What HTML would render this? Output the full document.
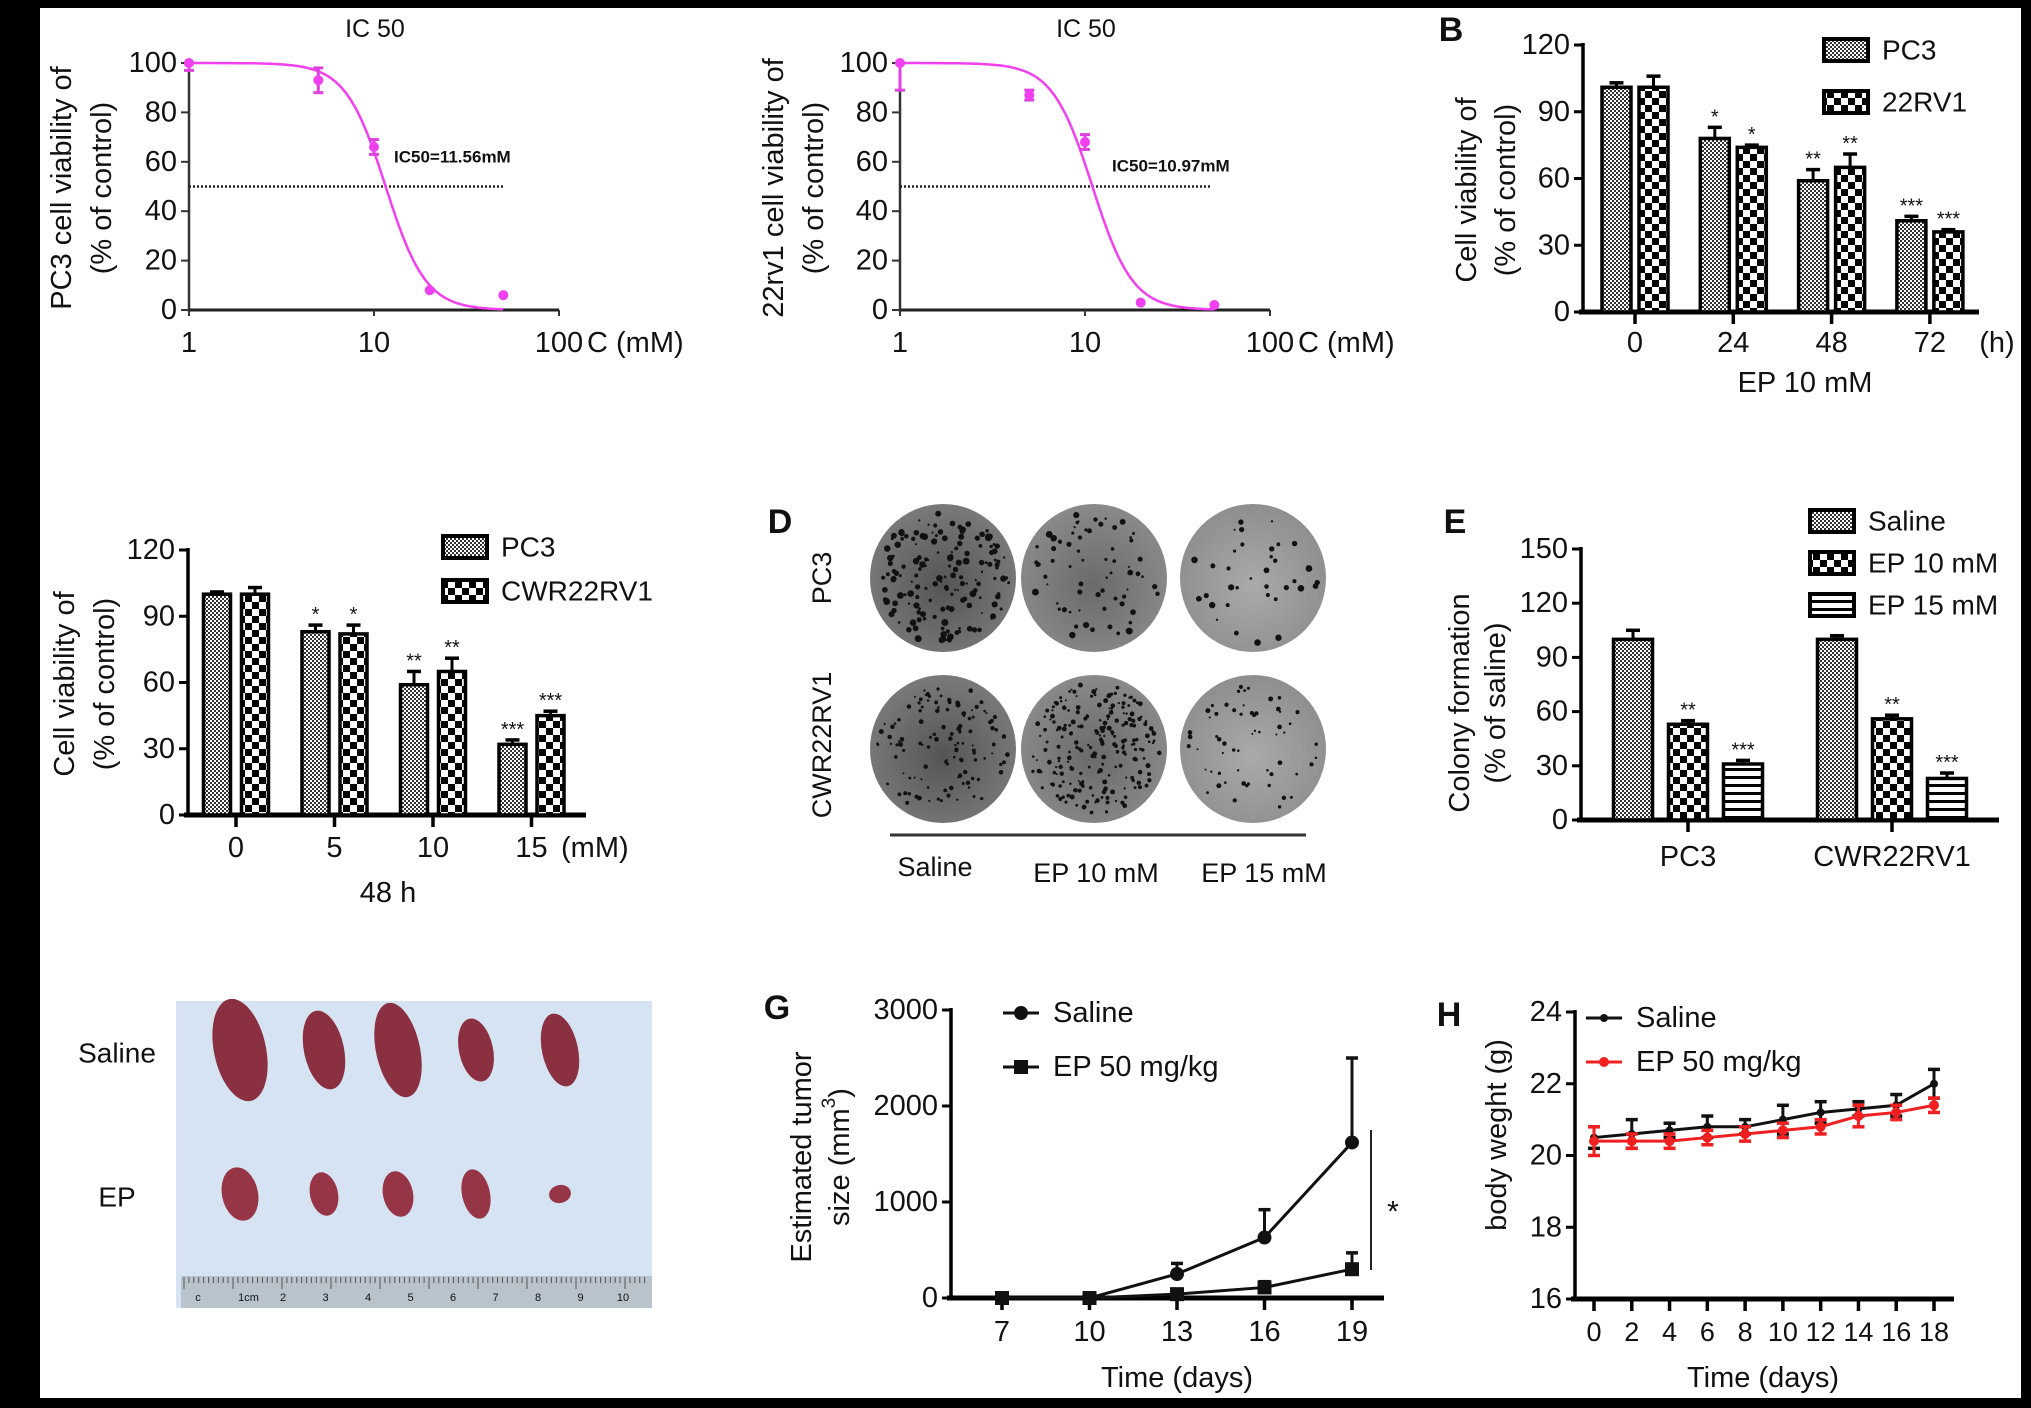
<!DOCTYPE html>
<html><head><meta charset="utf-8"><style>
html,body{margin:0;padding:0;background:#000}
svg{display:block}
text{font-family:"Liberation Sans",Arial,sans-serif;fill:#111}
</style></head><body>
<svg id="fig" width="2031" height="1408" viewBox="0 0 2031 1408" xmlns="http://www.w3.org/2000/svg">
<defs>
<pattern id="pFine" width="4" height="4" patternUnits="userSpaceOnUse"><rect width="4" height="4" fill="#fff"/><rect width="2" height="2" fill="#333"/><rect x="2" y="2" width="2" height="2" fill="#333"/></pattern>
<pattern id="pCoarse" width="14" height="14" patternUnits="userSpaceOnUse"><rect width="14" height="14" fill="#fff"/><rect width="7" height="7" fill="#000"/><rect x="7" y="7" width="7" height="7" fill="#000"/></pattern>
<pattern id="pStripe" width="8" height="8" patternUnits="userSpaceOnUse"><rect width="8" height="8" fill="#fff"/><rect y="0" width="8" height="3" fill="#000"/></pattern>
<radialGradient id="gPlate1" cx="50%" cy="55%" r="55%"><stop offset="0" stop-color="#555"/><stop offset="1" stop-color="#7a7a7a"/></radialGradient>
<radialGradient id="gPlate2" cx="50%" cy="55%" r="55%"><stop offset="0" stop-color="#6a6a6a"/><stop offset="1" stop-color="#8a8a8a"/></radialGradient>
<radialGradient id="gPlate3" cx="50%" cy="55%" r="55%"><stop offset="0" stop-color="#aaa"/><stop offset="1" stop-color="#8e8e8e"/></radialGradient>
</defs>
<rect x="40" y="8" width="1981" height="1390" fill="#fff"/>
<g id="root"></g>
</svg>
<script>
// ---------- DATA ----------
const a1Conc = [1, 5, 10, 20, 50];
const a1Vals = [100, 93, 66, 8, 6];
const a1Err = [3, 5, 3, 1, 0.5];
const a1IC50 = 11.56;
const a2Conc = [1, 5, 10, 20, 50];
const a2Vals = [100, 87, 68, 3, 2];
const a2Err = [11, 2, 3, 1, 0.5];
const a2IC50 = 10.97;
const aYTicks = [0, 20, 40, 60, 80, 100];
const aXTicks = [1, 10, 100];

const bCats = ["0", "24", "48", "72"];
const bPC3 = [101, 78, 59, 41];
const bPC3Err = [2, 5, 5, 2];
const b22 = [101, 74, 65, 36];
const b22Err = [5, 1, 6, 1];
const bPC3Stars = ["", "*", "**", "***"];
const b22Stars = ["", "*", "**", "***"];
const bcYTicks = [0, 30, 60, 90, 120];

const cCats = ["0", "5", "10", "15"];
const cPC3 = [100, 83, 59, 32];
const cPC3Err = [1, 3, 6, 2];
const cCWR = [100, 82, 65, 45];
const cCWRErr = [3, 4, 6, 2];
const cPC3Stars = ["", "*", "**", "***"];
const cCWRStars = ["", "*", "**", "***"];

const eCats = ["PC3", "CWR22RV1"];
const eSaline = [100, 100];
const eSalineErr = [5, 2];
const eEP10 = [53, 56];
const eEP10Err = [2, 2];
const eEP15 = [31, 23];
const eEP15Err = [2, 3];
const eEP10Stars = ["**", "**"];
const eEP15Stars = ["***", "***"];
const eYTicks = [0, 30, 60, 90, 120, 150];

const gDays = [7, 10, 13, 16, 19];
const gSaline = [0, 0, 250, 630, 1620];
const gSalineErr = [0, 0, 110, 290, 880];
const gEP = [0, 0, 40, 110, 300];
const gEPErr = [0, 0, 30, 60, 170];
const gYTicks = [0, 1000, 2000, 3000];

const hDays = [0, 2, 4, 6, 8, 10, 12, 14, 16, 18];
const hSaline = [20.5, 20.6, 20.7, 20.8, 20.8, 21.0, 21.2, 21.3, 21.4, 22.0];
const hSalineErr = [0.3, 0.4, 0.2, 0.3, 0.2, 0.4, 0.3, 0.2, 0.3, 0.4];
const hEP = [20.4, 20.4, 20.4, 20.5, 20.6, 20.7, 20.8, 21.1, 21.2, 21.4];
const hEPErr = [0.4, 0.2, 0.2, 0.2, 0.2, 0.2, 0.2, 0.3, 0.2, 0.2];
const hYTicks = [16, 18, 20, 22, 24];

// ---------- HELPERS ----------
const NS = "http://www.w3.org/2000/svg";
const root = document.getElementById("root");
function el(tag, attrs, parent) {
  const e = document.createElementNS(NS, tag);
  for (const k in attrs) e.setAttribute(k, attrs[k]);
  (parent || root).appendChild(e);
  return e;
}
function txt(s, x, y, size, opts, parent) {
  opts = opts || {};
  const t = el("text", {x: x, y: y, "font-size": size, "text-anchor": opts.anchor || "middle", "dominant-baseline": "central"}, parent);
  if (opts.bold) t.setAttribute("font-weight", "bold");
  if (opts.rot) t.setAttribute("transform", "rotate(-90 " + x + " " + y + ")");
  if (opts.fill) t.style.fill = opts.fill;
  t.textContent = s;
  return t;
}
function line(x1, y1, x2, y2, w, col, parent) {
  return el("line", {x1: x1, y1: y1, x2: x2, y2: y2, stroke: col || "#000", "stroke-width": w || 3}, parent);
}
function group(name) {
  const g = el("g", {});
  
  
  return g;
}

// ---------- PANEL A (IC50 curves) ----------
function icPanel(name, ax, conc, vals, errs, ic50, label, labelX, labelY, dotEnd, ylab1, ylab2, ylx1, ylx2) {
  const g = group(name);
  const y0 = 310, y100 = 63, dec = 185;
  const X = c => ax + Math.log10(c) * dec;
  const Y = v => y0 - (v / 100) * (y0 - y100);
  const t = txt("IC 50", X(Math.sqrt(10) * 3.2), 29, 25, {}, g);
  
  line(ax, Y(100) - 2, ax, y0 + 2, 2.5, "#333", g);
  line(ax, y0, X(100), y0, 3, "#222", g);
  aYTicks.forEach(v => {
    line(ax - 8, Y(v), ax, Y(v), 2, "#333", g);
    const tl = txt(String(v), ax - 12, Y(v), 29, {anchor: "end"}, g);
    
  });
  aXTicks.forEach(v => {
    line(X(v), y0, X(v), y0 + 6, 2, "#333", g);
    const tl = txt(String(v), X(v), 343, 29, {}, g);
    
  });
  const ut = txt("C (mM)", X(100) + 28, 343, 29, {anchor: "start"}, g);
  
  const dl = line(ax, Y(50), dotEnd, Y(50), 2.5, "#222", g);
  dl.setAttribute("stroke-dasharray", "2 2");
  
  let d = "";
  for (let i = 0; i <= 200; i++) {
    const lc = i * Math.log10(50) / 200;
    const c = Math.pow(10, lc);
    const v = 100 / (1 + Math.pow(c / ic50, 4));
    d += (i ? "L" : "M") + X(c).toFixed(1) + " " + Y(v).toFixed(1);
  }
  const p = el("path", {d: d, fill: "none", stroke: "#f040f0", "stroke-width": 2.5}, g);
  
  conc.forEach((c, i) => {
    const x = X(c), yv = Y(vals[i]);
    if (errs[i] > 1) {
      const yl = Y(vals[i] - errs[i]), yh = Y(Math.min(vals[i] + errs[i], 100));
      line(x, yl, x, yh, 3, "#e040e0", g);
      line(x - 5, yl, x + 5, yl, 3, "#e040e0", g);
      line(x - 5, yh, x + 5, yh, 3, "#e040e0", g);
    }
    const c1 = el("circle", {cx: x, cy: yv, r: 5, fill: "#f040f0"}, g);
    
  });
  const lt = txt(label, labelX, labelY, 17, {anchor: "start", bold: true}, g);
  
  const y1 = txt(ylab1, ylx1, 188, 29, {rot: true}, g);
  
  const y2 = txt(ylab2, ylx2, 188, 29, {rot: true}, g);
  
}
icPanel("panel-a-pc3-ic50", 189, a1Conc, a1Vals, a1Err, a1IC50, "IC50=11.56mM", 394, 157, 505, "PC3 cell viability of", "(% of control)", 62, 102);
icPanel("panel-a-22rv1-ic50", 900, a2Conc, a2Vals, a2Err, a2IC50, "IC50=10.97mM", 1112, 166, 1212, "22rv1 cell viability of", "(% of control)", 774, 814);

// ---------- BAR CHART HELPER ----------
function barChart(cfg) {
  const g = group(cfg.name);
  const Y = v => cfg.y0 - (v / cfg.ymax) * (cfg.y0 - cfg.yTop);
  line(cfg.ax, cfg.yTop - 2, cfg.ax, cfg.y0, 3.5, "#000", g);
  line(cfg.ax - 4, cfg.y0, cfg.xEnd, cfg.y0, 5, "#000", g);
  cfg.yTicks.forEach(v => {
    line(cfg.ax - 9, Y(v), cfg.ax, Y(v), 3, "#000", g);
    const tl = txt(String(v), cfg.ax - 13, Y(v), 29, {anchor: "end"}, g);
    
  });
  const ns = cfg.series.length;
  cfg.cats.forEach((cat, i) => {
    const cx = cfg.c0 + i * cfg.step;
    line(cx, cfg.y0, cx, cfg.y0 + 12, 3.5, "#000", g);
    const tl = txt(cat, cx, cfg.tickY, 29, {}, g);
    
    cfg.series.forEach((s, j) => {
      const bx = cx + (j - (ns - 1) / 2) * cfg.gap - cfg.bw / 2;
      const v = s.vals[i], e = s.errs[i];
      const yt = Y(v + e);
      line(bx + cfg.bw / 2, Y(v), bx + cfg.bw / 2, yt, 3, "#000", g);
      line(bx + cfg.bw / 2 - 7, yt, bx + cfg.bw / 2 + 7, yt, 3.5, "#000", g);
      const r = el("rect", {x: bx, y: Y(v), width: cfg.bw, height: cfg.y0 - Y(v), fill: "url(#" + s.pat + ")", stroke: "#000", "stroke-width": 3.5}, g);
      
      
      if (s.stars && s.stars[i]) {
        const st = txt(s.stars[i], bx + cfg.bw / 2, yt - 10, 20, {}, g);
        
      }
    });
  });
  cfg.legend.forEach((lg, k) => {
    const ly = cfg.legY + k * cfg.legStep;
    const r = el("rect", {x: cfg.legX, y: ly - 11, width: 44, height: 22, fill: "url(#" + lg.pat + ")", stroke: "#000", "stroke-width": 4}, g);
    
    const lt = txt(lg.label, cfg.legX + 58, ly, 28, {anchor: "start"}, g);
    
  });
  cfg.ylab.forEach((s, k) => {
    const t = txt(s, cfg.ylx[k], cfg.yly, 29, {rot: true}, g);
    
  });
  return g;
}

// Panel B
const gB = barChart({name: "panel-b-time-course", ax: 1583, y0: 312, yTop: 45, ymax: 120, xEnd: 1979, yTicks: bcYTicks,
  cats: bCats, c0: 1635, step: 98.3, gap: 37, bw: 29, tickY: 343,
  series: [{key: "pc3", vals: bPC3, errs: bPC3Err, pat: "pFine", stars: bPC3Stars}, {key: "22rv1", vals: b22, errs: b22Err, pat: "pCoarse", stars: b22Stars}],
  legend: [{label: "PC3", pat: "pFine"}, {label: "22RV1", pat: "pCoarse"}], legX: 1824, legY: 50, legStep: 52,
  ylab: ["Cell viability of", "(% of control)"], ylx: [1467, 1506], yly: 190});
txt("(h)", 1997, 343, 29, {}, gB);
txt("EP 10 mM", 1805, 383, 29, {}, gB);
txt("B", 1451, 30, 34, {bold: true}, gB);

// Panel C
const gC = barChart({name: "panel-c-dose", ax: 188, y0: 815, yTop: 550, ymax: 120, xEnd: 586, yTicks: bcYTicks,
  cats: cCats, c0: 236, step: 98.5, gap: 38, bw: 27, tickY: 848,
  series: [{key: "pc3", vals: cPC3, errs: cPC3Err, pat: "pFine", stars: cPC3Stars}, {key: "cwr22rv1", vals: cCWR, errs: cCWRErr, pat: "pCoarse", stars: cCWRStars}],
  legend: [{label: "PC3", pat: "pFine"}, {label: "CWR22RV1", pat: "pCoarse"}], legX: 443, legY: 547, legStep: 44,
  ylab: ["Cell viability of", "(% of control)"], ylx: [65, 105], yly: 684});
txt("(mM)", 561, 848, 29, {anchor: "start"}, gC);
txt("48 h", 388, 893, 29, {}, gC);

// Panel E
const gE = barChart({name: "panel-e-colony", ax: 1581, y0: 820, yTop: 549, ymax: 150, xEnd: 1999, yTicks: eYTicks,
  cats: eCats, c0: 1688, step: 204, gap: 55, bw: 39, tickY: 857,
  series: [{key: "saline", vals: eSaline, errs: eSalineErr, pat: "pFine"}, {key: "ep10", vals: eEP10, errs: eEP10Err, pat: "pCoarse", stars: eEP10Stars}, {key: "ep15", vals: eEP15, errs: eEP15Err, pat: "pStripe", stars: eEP15Stars}],
  legend: [{label: "Saline", pat: "pFine"}, {label: "EP 10 mM", pat: "pCoarse"}, {label: "EP 15 mM", pat: "pStripe"}], legX: 1810, legY: 521, legStep: 42,
  ylab: ["Colony formation", "(% of saline)"], ylx: [1460, 1496], yly: 703});
txt("E", 1455, 522, 34, {bold: true}, gE);

// ---------- PANEL D (plates) ----------
(function () {
  const g = group("panel-d-colony-plates");
  txt("D", 780, 522, 34, {bold: true}, g);
  txt("PC3", 822, 578, 27, {rot: true}, g);
  txt("CWR22RV1", 822, 745, 27, {rot: true}, g);
  const cxs = [943, 1094, 1253], cys = [578, 749];
  const grads = ["gPlate1", "gPlate2", "gPlate3"];
  const dots = [[160, 120], [70, 220], [35, 60]];
  let seed = 7;
  const rnd = () => { seed = (seed * 16807) % 2147483647; return seed / 2147483647; };
  cys.forEach((cy, r) => cxs.forEach((cx, c) => {
    const e = el("ellipse", {cx: cx, cy: cy, rx: 73, ry: 74, fill: "url(#" + grads[c] + ")"}, g);
    
    const n = dots[c][r];
    for (let k = 0; k < n; k++) {
      const a = rnd() * Math.PI * 2, rr = Math.sqrt(rnd()) * 66;
      el("circle", {cx: cx + Math.cos(a) * rr, cy: cy + Math.sin(a) * rr, r: 1 + rnd() * (r ? 1.5 : 2.5), fill: "#111"}, g);
    }
  }));
  line(890, 835, 1306, 835, 3, "#333", g);
  txt("Saline", 935, 867, 27, {}, g);
  txt("EP 10 mM", 1096, 873, 27, {}, g);
  txt("EP 15 mM", 1264, 873, 27, {}, g);
})();

// ---------- PANEL F (tumor photo) ----------
(function () {
  const g = group("panel-f-tumor-photo");
  el("rect", {x: 176, y: 1001, width: 476, height: 307, fill: "#d6e3f3"}, g);
  const rul = el("rect", {x: 181, y: 1276, width: 471, height: 32, fill: "#b9c3cc"}, g);
  
  for (let k = 0; k <= 94; k++) line(184 + k * 4.9, 1277, 184 + k * 4.9, 1277 + (k % 10 === 0 ? 12 : 6), 1, "#555", g);
  ["c", "1cm", "2", "3", "4", "5", "6", "7", "8", "9", "10"].forEach((s, k) => {
    const t = txt(s, 198 + k * 42.5 + (k === 1 ? 8 : 0), 1298, 11, {}, g);
    
  });
  const xs = [240, 324, 398, 476, 560];
  const sal = [[26, 52], [20, 40], [22, 48], [17, 32], [18, 37]];
  const ep = [[18, 27], [14, 22], [15, 23], [14, 25], [11, 9]];
  xs.forEach((x, i) => {
    const a = el("ellipse", {cx: x, cy: 1050, rx: sal[i][0], ry: sal[i][1], fill: "#8a3040", transform: "rotate(-12 " + x + " 1050)"}, g);
    
    const b = el("ellipse", {cx: x, cy: 1194, rx: ep[i][0], ry: ep[i][1], fill: "#963546", transform: "rotate(-12 " + x + " 1194)"}, g);
    
  });
  txt("Saline", 117, 1053, 28, {}, g);
  txt("EP", 117, 1197, 28, {}, g);
})();

// ---------- LINE CHART HELPER ----------
function lineChart(cfg) {
  const g = group(cfg.name);
  const X = d => cfg.x0 + (d - cfg.dmin) * cfg.dx;
  const Y = v => cfg.y0 - (v - cfg.vmin) / (cfg.vmax - cfg.vmin) * (cfg.y0 - cfg.yTop);
  line(cfg.ax, cfg.yTop - 2, cfg.ax, cfg.y0, 3.5, "#000", g);
  line(cfg.ax - 4, cfg.y0, cfg.xEnd, cfg.y0, 5, "#000", g);
  cfg.yTicks.forEach(v => {
    line(cfg.ax - 9, Y(v), cfg.ax, Y(v), 3, "#000", g);
    txt(String(v), cfg.ax - 13, Y(v), 29, {anchor: "end"}, g);
  });
  cfg.days.forEach(d => {
    line(X(d), cfg.y0, X(d), cfg.y0 + 12, 3.5, "#000", g);
    txt(String(d), X(d), 1332, cfg.tickSize, {}, g);
  });
  cfg.series.forEach(s => {
    let d = "";
    cfg.days.forEach((day, i) => { d += (i ? "L" : "M") + X(day) + " " + Y(s.vals[i]); });
    const p = el("path", {d: d, fill: "none", stroke: s.col, "stroke-width": 3}, g);
    
    cfg.days.forEach((day, i) => {
      const x = X(day), yv = Y(s.vals[i]);
      if (s.errs[i] > 0) {
        const yt = Y(s.vals[i] + s.errs[i]);
        line(x, yv, x, yt, 3, s.col, g);
        line(x - 6, yt, x + 6, yt, 3.5, s.col, g);
        if (cfg.bothErr) { const yb = Y(s.vals[i] - s.errs[i]); line(x, yv, x, yb, 3, s.col, g); line(x - 6, yb, x + 6, yb, 3.5, s.col, g); }
      }
      const m = s.square ? el("rect", {x: x - s.ms, y: yv - s.ms, width: 2 * s.ms, height: 2 * s.ms, fill: s.col}, g)
                         : el("circle", {cx: x, cy: yv, r: s.ms, fill: s.col}, g);
      
    });
  });
  cfg.series.forEach((s, k) => {
    const ly = cfg.legY + k * cfg.legStep;
    line(cfg.legX - 18, ly, cfg.legX + 18, ly, 3, s.col, g);
    if (s.square) el("rect", {x: cfg.legX - s.ms, y: ly - s.ms, width: 2 * s.ms, height: 2 * s.ms, fill: s.col}, g);
    else el("circle", {cx: cfg.legX, cy: ly, r: s.ms, fill: s.col}, g);
    txt(s.label, cfg.legX + 32, ly, 29, {anchor: "start"}, g);
  });
  txt("Time (days)", cfg.titleX, 1378, 29, {}, g);
  return g;
}

// Panel G
const gG = lineChart({name: "panel-g-tumor-size", ax: 951, x0: 1002, dmin: 7, dx: 87.5 / 3, y0: 1298, yTop: 1010, vmin: 0, vmax: 3000, xEnd: 1384,
  yTicks: gYTicks, days: gDays, tickSize: 29, titleX: 1177, legX: 1021, legY: 1013, legStep: 54,
  series: [{key: "saline", label: "Saline", vals: gSaline, errs: gSalineErr, col: "#111", ms: 7},
           {key: "ep", label: "EP 50 mg/kg", vals: gEP, errs: gEPErr, col: "#111", ms: 7, square: true}]});
txt("G", 777, 1008, 34, {bold: true}, gG);
line(1371, 1130, 1371, 1270, 2, "#222", gG);
txt("*", 1393, 1212, 30, {}, gG);
const gyl1 = txt("Estimated tumor", 802, 1157, 29, {rot: true}, gG);

const gyl2 = el("text", {x: 840, y: 1157, "font-size": 29, "text-anchor": "middle", "dominant-baseline": "central", transform: "rotate(-90 840 1157)"}, gG);

gyl2.innerHTML = 'size (mm<tspan baseline-shift="super" font-size="19">3</tspan>)';

// Panel H
const gH = lineChart({name: "panel-h-body-weight", ax: 1575, x0: 1594, dmin: 0, dx: 340 / 18, y0: 1299, yTop: 1012, vmin: 16, vmax: 24, xEnd: 1954,
  yTicks: hYTicks, days: hDays, tickSize: 27, titleX: 1763, legX: 1604, legY: 1018, legStep: 44, bothErr: true,
  series: [{key: "saline", label: "Saline", vals: hSaline, errs: hSalineErr, col: "#111", ms: 4},
           {key: "ep", label: "EP 50 mg/kg", vals: hEP, errs: hEPErr, col: "#f02020", ms: 5}]});
txt("H", 1449, 1015, 34, {bold: true}, gH);
txt("body weght (g)", 1497, 1135, 29, {rot: true}, gH);
</script>
</body></html>
